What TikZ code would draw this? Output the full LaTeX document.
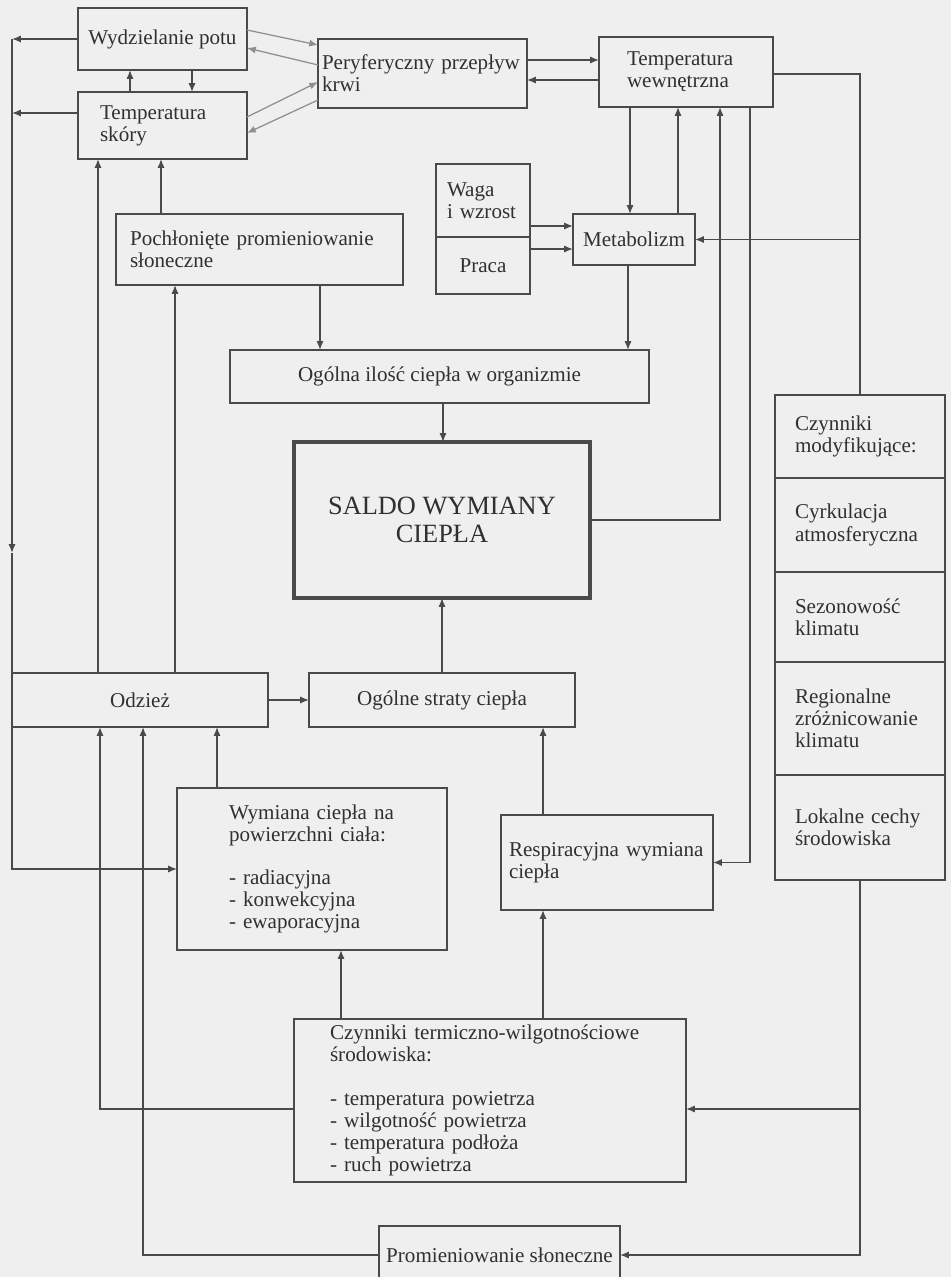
\documentclass[tikz,border=0pt]{standalone}
\usepackage{fontspec}
\setmainfont{Liberation Serif}
\usepackage{tikz}
\usetikzlibrary{shapes,arrows.meta}
\usetikzlibrary{positioning}
\definecolor{paper}{HTML}{EFEFEF}
\definecolor{ink}{HTML}{4A4A4A}
\definecolor{inktext}{HTML}{303030}
\definecolor{faint}{HTML}{8E8E8E}
\tikzstyle{block} = [
	draw=ink,
	line width=0.8pt,
	outer sep=0pt,
	text=inktext,
	font=\fontsize{12}{12.6}\selectfont
]
\tikzstyle{listblock} = [block, align=left]
\tikzstyle{mainblock} = [block, line width=2.2pt, align=center, font=\fontsize{15}{15.8}\selectfont]
\tikzstyle{link} = [->, draw=ink, line width=0.8pt]
\tikzstyle{thinlink} = [->, draw=faint, line width=0.7pt]

\begin{document}
\begin{tikzpicture}[x=0.02cm, y=-0.02cm, >={Latex[length=5pt,width=4pt]}, auto]
	\useasboundingbox (0,0) rectangle (951,1277);
	\clip (0,0) rectangle (951,1277);
	\fill[paper] (0,0) rectangle (951,1277);

	% gorny rzad
	\node[block, name=potu, minimum width=3.38cm, minimum height=1.24cm] at (162.5,39) {Wydzielanie potu};
	\node[listblock, name=skora, text width=2.5cm, inner xsep=0.44cm, minimum height=1.34cm] at (162.5,125.5) {Temperatura\\ skóry};
	\node[listblock, name=perif, text width=4.02cm, inner xsep=0.08cm, minimum height=1.38cm] at (422.5,73.5) {Peryferyczny przepływ\\ krwi};
	\node[listblock, name=tempw, text width=2.36cm, inner xsep=0.56cm, minimum height=1.4cm] at (686,72) {Temperatura\\ wewnętrzna};

	% metabolizm
	\node[listblock, name=waga, text width=1.44cm, inner xsep=0.22cm, minimum height=1.46cm] at (483,200.5) {Waga\\ i wzrost};
	\node[block, name=praca, below=0cm of waga, minimum width=1.88cm, minimum height=1.14cm] {Praca};
	\node[block, name=metab, minimum width=2.44cm, minimum height=1.02cm] at (634,239.5) {Metabolizm};
	\node[listblock, name=pochl, text width=5.18cm, inner xsep=0.28cm, minimum height=1.42cm] at (259.5,249.5) {Pochłonięte promieniowanie\\ słoneczne};
	\node[block, name=ogolna, minimum width=8.38cm, minimum height=1.06cm] at (439.5,376.5) {Ogólna ilość ciepła w organizmie};

	\node[mainblock, name=saldo, minimum width=5.92cm, minimum height=3.12cm] at (442,520) {SALDO WYMIANY\\ CIEPŁA};

	% straty
	\node[block, name=odziez, minimum width=5.12cm, minimum height=1.08cm] at (140,700) {Odzież};
	\node[block, name=straty, minimum width=5.32cm, minimum height=1.08cm] at (442,700) {Ogólne straty ciepła};
	\node[listblock, name=wymiana, text width=3.32cm, inner xsep=1.04cm, minimum height=3.24cm] at (312,869) {Wymiana ciepła na\\ powierzchni ciała:\\[12pt] - radiacyjna\\ - konwekcyjna\\ - ewaporacyjna};
	\node[listblock, name=resp, text width=3.92cm, inner xsep=0.16cm, minimum height=1.9cm] at (607,862.5) {Respiracyjna wymiana\\ ciepła};
	\node[listblock, name=termo, text width=6.4cm, inner xsep=0.72cm, minimum height=3.26cm] at (490,1100.5) {Czynniki termiczno-wilgotnościowe\\ środowiska:\\[12pt] - temperatura powietrza\\ - wilgotność powietrza\\ - temperatura podłoża\\ - ruch powietrza};
	\node[block, name=promien, minimum width=4.82cm, minimum height=1.16cm] at (499.5,1255) {Promieniowanie słoneczne};

	% czynniki modyfikujace
	\node[listblock, name=mod1, text width=2.6cm, inner xsep=0.4cm, minimum height=1.66cm] at (860,436.5) {Czynniki\\ modyfikujące:};
	\node[listblock, name=mod2, below=0cm of mod1, text width=2.6cm, inner xsep=0.4cm, minimum height=1.88cm] {Cyrkulacja\\ atmosferyczna};
	\node[listblock, name=mod3, below=0cm of mod2, text width=2.6cm, inner xsep=0.4cm, minimum height=1.8cm] {Sezonowość\\ klimatu};
	\node[listblock, name=mod4, below=0cm of mod3, text width=2.6cm, inner xsep=0.4cm, minimum height=2.26cm] {Regionalne\\ zróżnicowanie\\ klimatu};
	\node[listblock, name=mod5, below=0cm of mod4, text width=2.6cm, inner xsep=0.4cm, minimum height=2.1cm] {Lokalne cechy\\ środowiska};

	\coordinate (lx) at (12,0);
	\coordinate (ldown) at (12,553);

	% lewa linia
	\draw[link] (potu.west) -- (lx |- potu.west);
	\draw[link] (skora.west |- 0,113) -- (lx |- 0,113);
	\draw[link] (lx |- potu.west) -- (ldown);
	\draw[link] (ldown) -- (lx |- wymiana.west) -- (wymiana.west);
	\draw[link] (130,0 |- skora.north) -- (130,0 |- potu.south);
	\draw[link] (192,0 |- potu.south) -- (192,0 |- skora.north);

	\draw[thinlink] (potu.east |- 0,30) -- (perif.west |- 0,45);
	\draw[thinlink] (perif.west |- 0,65) -- (potu.east |- 0,48);
	\draw[thinlink] (skora.east |- 0,117) -- (perif.west |- 0,82);
	\draw[thinlink] (perif.west |- 0,100) -- (skora.east |- 0,133);

	\draw[link] (perif.east |- 0,60) -- (tempw.west |- 0,60);
	\draw[link] (tempw.west |- 0,80) -- (perif.east |- 0,80);

	\draw[link, -] (tempw.east |- 0,74) -| (mod1.north);
	\draw[link] (mod1.north |- metab.east) -- (metab.east);
	\draw[link] (630,0 |- tempw.south) -- (630,0 |- metab.north);
	\draw[link] (678,0 |- metab.north) -- (678,0 |- tempw.south);
	\draw[link] (saldo.east) -| (720,0 |- tempw.south);
	\draw[link] (750,0 |- tempw.south) |- (resp.east);

	\draw[link] (waga.east |- 0,226) -- (metab.west |- 0,226);
	\draw[link] (praca.east |- 0,249) -- (metab.west |- 0,249);
	\draw[link] (628,0 |- metab.south) -- (628,0 |- ogolna.north);
	\draw[link] (320,0 |- pochl.south) -- (320,0 |- ogolna.north);
	\draw[link] (161,0 |- pochl.north) -- (161,0 |- skora.south);
	\draw[link] (443,0 |- ogolna.south) -- (443,0 |- saldo.north);
	\draw[link] (straty.north) -- (saldo.south);
	\draw[link] (odziez.east) -- (straty.west);

	\draw[link] (98,0 |- odziez.north) -- (98,0 |- skora.south);
	\draw[link] (175,0 |- odziez.north) -- (175,0 |- pochl.south);
	\draw[link] (217,0 |- wymiana.north) -- (217,0 |- odziez.south);
	\draw[link] (termo.west |- 0,1109) -| (100,0 |- odziez.south);
	\draw[link] (promien.west) -| (143,0 |- odziez.south);
	\draw[link] (341,0 |- termo.north) -- (341,0 |- wymiana.south);
	\draw[link] (543,0 |- termo.north) -- (543,0 |- resp.south);
	\draw[link] (543,0 |- resp.north) -- (543,0 |- straty.south);

	\draw[link] (mod5.south) |- (promien.east);
	\draw[link] (mod5.south |- 0,1109) -- (termo.east |- 0,1109);
\end{tikzpicture}
\end{document}
